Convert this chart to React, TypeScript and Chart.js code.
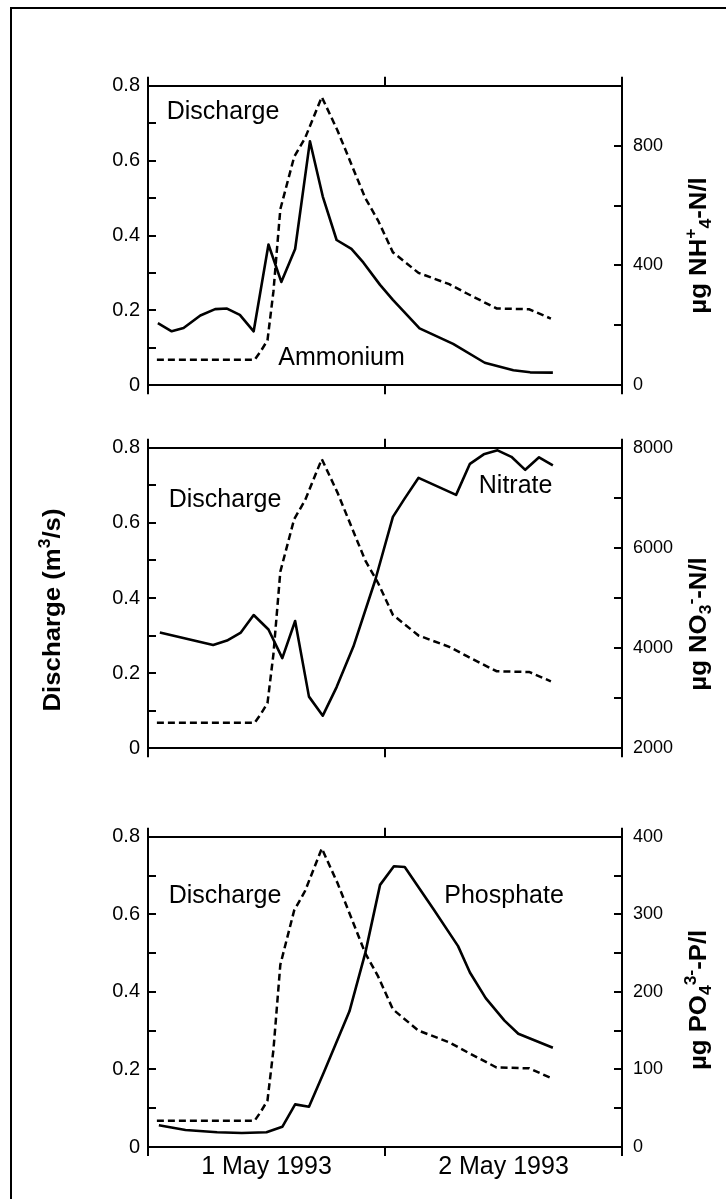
import React, { useEffect, useRef } from 'react';
import { Chart, registerables } from 'chart.js';

Chart.register(...registerables);

// ---------------- data (x = hours after 00:00, 1 May 1993) ----------------
const dischargeHours = [0.9, 10.8, 11.4, 12.1, 12.7, 13.4, 14.8, 15.9, 17.6, 19.2, 22.0, 23.3, 24.8, 27.4, 30.5, 32.3, 35.3, 38.6, 40.8];
const dischargeValues = [0.068, 0.068, 0.09, 0.12, 0.25, 0.47, 0.61, 0.66, 0.77, 0.68, 0.5, 0.44, 0.355, 0.3, 0.27, 0.245, 0.205, 0.203, 0.178];

const ammoniumHours = [1.0, 2.4, 3.6, 5.3, 6.8, 8.0, 9.3, 10.7, 12.2, 13.5, 14.9, 16.4, 17.7, 19.1, 20.6, 21.8, 23.5, 24.8, 27.5, 30.9, 34.1, 37.0, 38.7, 41.0];
const ammoniumValues = [207, 180, 191, 233, 254, 256, 235, 180, 470, 345, 455, 815, 630, 485, 455, 410, 335, 285, 190, 138, 75, 50, 43, 42];

const nitrateHours = [1.2, 6.6, 8.0, 9.4, 10.7, 12.2, 13.6, 14.9, 16.3, 17.7, 19.1, 20.8, 23.0, 24.8, 26.0, 27.4, 31.2, 32.6, 34.0, 35.4, 36.8, 38.2, 39.6, 41.0];
const nitrateValues = [4310, 4060, 4150, 4310, 4660, 4370, 3800, 4540, 3030, 2650, 3220, 4030, 5350, 6620, 6990, 7400, 7060, 7680, 7870, 7950, 7820, 7560, 7810, 7650];

const phosphateHours = [1.1, 3.8, 7.0, 9.5, 12.0, 13.6, 14.9, 16.3, 17.8, 20.4, 22.0, 23.5, 24.9, 26.0, 28.9, 31.4, 32.6, 34.2, 36.1, 37.5, 41.0];
const phosphateValues = [28, 22, 19, 18, 19, 26, 55, 52, 96, 175, 250, 338, 362, 361, 307, 259, 225, 192, 163, 146, 128];

// tick labels
const xLabelHours = [12, 36];
const xLabelTexts = ['1 May 1993', '2 May 1993'];
const dischargeTickLabels = [0, 0.2, 0.4, 0.6, 0.8];
const ammoniumTickLabels = [0, 400, 800];
const nitrateTickLabels = [2000, 4000, 6000, 8000];
const phosphateTickLabels = [0, 100, 200, 300, 400];

const FONT = "'Liberation Sans', Arial, Helvetica, sans-serif";

type Seg = { t: string; k?: 'sup' | 'sub' };

function drawRich(ctx: CanvasRenderingContext2D, segs: Seg[], bx: number, cy: number, size: number, stretch: number) {
  ctx.save();
  ctx.translate(bx, cy);
  ctx.rotate(-Math.PI / 2);
  ctx.scale(stretch, 1);
  let total = 0;
  const parts = segs.map((sg) => {
    const fs = sg.k ? size * 0.68 : size;
    ctx.font = `bold ${fs}px ${FONT}`;
    const w = ctx.measureText(sg.t).width;
    total += w;
    return { sg, fs, w };
  });
  let x = -total / 2;
  ctx.textBaseline = 'alphabetic';
  ctx.textAlign = 'left';
  ctx.fillStyle = '#000';
  for (const p of parts) {
    ctx.font = `bold ${p.fs}px ${FONT}`;
    const dy = p.sg.k === 'sup' ? -size * 0.42 : p.sg.k === 'sub' ? size * 0.22 : 0;
    ctx.fillText(p.sg.t, x, dy);
    x += p.w;
  }
  ctx.restore();
}

const textPlugin = {
  id: 'panelText',
  afterDraw(chart: any, _args: any, opts: any) {
    const ctx = chart.ctx as CanvasRenderingContext2D;
    const xs = chart.scales.x;
    const ys = chart.scales.y;
    const area = chart.chartArea;
    for (const n of opts.notes || []) {
      ctx.save();
      ctx.font = `25px ${FONT}`;
      ctx.fillStyle = '#000';
      ctx.textAlign = 'left';
      ctx.textBaseline = 'alphabetic';
      ctx.fillText(n.text, xs.getPixelForValue(n.x), ys.getPixelForValue(n.y));
      ctx.restore();
    }
    const midY = (area.top + area.bottom) / 2;
    for (const t of opts.titles || []) {
      const bx = t.side === 'left' ? area.left - t.dx : area.right + t.dx;
      drawRich(ctx, t.segs, bx, midY + t.dy, 23, 1.12);
    }
  },
};

type PanelSpec = {
  top: number;
  height: number;
  bottomAxis: number;
  concHours: number[];
  concValues: number[];
  rightMin: number;
  rightMax: number;
  rightStep: number;
  rightLabels: number[];
  showX: boolean;
  notes: { text: string; x: number; y: number }[];
  titles: { side: 'left' | 'right'; dx: number; dy: number; segs: Seg[] }[];
};

const panels: PanelSpec[] = [
  {
    top: 56,
    height: 359,
    bottomAxis: 20,
    concHours: ammoniumHours,
    concValues: ammoniumValues,
    rightMin: 0,
    rightMax: 1000,
    rightStep: 200,
    rightLabels: ammoniumTickLabels,
    showX: false,
    notes: [
      { text: 'Discharge', x: 1.9, y: 0.712 },
      { text: 'Ammonium', x: 13.2, y: 0.055 },
    ],
    titles: [
      { side: 'right', dx: 84, dy: 10, segs: [{ t: 'µg NH' }, { t: '+', k: 'sup' }, { t: '4', k: 'sub' }, { t: '-N/l' }] },
    ],
  },
  {
    top: 418,
    height: 360,
    bottomAxis: 20,
    concHours: nitrateHours,
    concValues: nitrateValues,
    rightMin: 2000,
    rightMax: 8000,
    rightStep: 1000,
    rightLabels: nitrateTickLabels,
    showX: false,
    notes: [
      { text: 'Discharge', x: 2.1, y: 0.6425 },
      { text: 'Nitrate', x: 33.5, y: 0.68 },
    ],
    titles: [
      { side: 'right', dx: 84, dy: 26, segs: [{ t: 'µg NO' }, { t: '3', k: 'sub' }, { t: '-', k: 'sup' }, { t: '-N/l' }] },
      { side: 'left', dx: 88, dy: 12, segs: [{ t: 'Discharge (m' }, { t: '3', k: 'sup' }, { t: '/s)' }] },
    ],
  },
  {
    top: 807,
    height: 390,
    bottomAxis: 50,
    concHours: phosphateHours,
    concValues: phosphateValues,
    rightMin: 0,
    rightMax: 400,
    rightStep: 50,
    rightLabels: phosphateTickLabels,
    showX: true,
    notes: [
      { text: 'Discharge', x: 2.1, y: 0.63 },
      { text: 'Phosphate', x: 30.0, y: 0.63 },
    ],
    titles: [
      { side: 'right', dx: 84, dy: 8, segs: [{ t: 'µg PO' }, { t: '4', k: 'sub' }, { t: '3-', k: 'sup' }, { t: '-P/l' }] },
    ],
  },
];

function xAxis(position: 'top' | 'bottom', spec: PanelSpec) {
  return {
    type: 'linear',
    position,
    min: 0,
    max: 48,
    ticks: {
      stepSize: 12,
      autoSkip: false,
      maxRotation: 0,
      minRotation: 0,
      padding: -4,
      color: '#000',
      font: { family: FONT, size: 25 },
      callback: (v: any) => {
        if (position !== 'bottom' || !spec.showX) return '';
        const i = xLabelHours.indexOf(Number(v));
        return i >= 0 ? xLabelTexts[i] : '';
      },
    },
    grid: {
      drawOnChartArea: false,
      drawTicks: true,
      tickLength: 9,
      lineWidth: 2,
      color: '#000',
      tickColor: (c: any) => (c.tick && Number(c.tick.value) % 24 === 0 ? '#000' : 'rgba(0,0,0,0)'),
    },
    border: { display: true, color: '#000', width: 2 },
    afterFit: (s: any) => {
      s.height = position === 'top' ? 20 : spec.bottomAxis;
    },
  };
}

function buildConfig(spec: PanelSpec): any {
  return {
    type: 'line',
    data: {
      datasets: [
        {
          label: 'Discharge',
          data: dischargeHours.map((h, i) => ({ x: h, y: dischargeValues[i] })),
          xAxisID: 'x',
          yAxisID: 'y',
          borderColor: '#000',
          borderWidth: 2.5,
          borderDash: [7, 4],
          pointRadius: 0,
          fill: false,
          tension: 0,
        },
        {
          label: 'Concentration',
          data: spec.concHours.map((h, i) => ({ x: h, y: spec.concValues[i] })),
          xAxisID: 'x',
          yAxisID: 'y1',
          borderColor: '#000',
          borderWidth: 2.6,
          borderJoinStyle: 'round',
          pointRadius: 0,
          fill: false,
          tension: 0,
        },
      ],
    },
    options: {
      responsive: false,
      animation: false,
      devicePixelRatio: 1,
      layout: { padding: 0 },
      events: [],
      plugins: {
        legend: { display: false },
        tooltip: { enabled: false },
        panelText: { notes: spec.notes, titles: spec.titles },
      },
      scales: {
        x: xAxis('bottom', spec),
        x2: xAxis('top', spec),
        y: {
          type: 'linear',
          position: 'left',
          min: 0,
          max: 0.8,
          ticks: {
            stepSize: 0.1,
            autoSkip: false,
            padding: 16,
            color: '#000',
            font: { family: FONT, size: 20 },
            callback: (v: any) => {
              const n = Math.round(Number(v) * 10) / 10;
              const hit = dischargeTickLabels.some((t) => Math.abs(t - n) < 1e-6);
              if (!hit) return '';
              return n === 0 ? '0' : n.toFixed(1);
            },
          },
          grid: { drawOnChartArea: false, drawTicks: true, tickLength: -8, lineWidth: 2, color: '#000', tickColor: '#000' },
          border: { display: true, color: '#000', width: 2 },
          afterFit: (s: any) => {
            s.width = 148;
          },
        },
        y1: {
          type: 'linear',
          position: 'right',
          min: spec.rightMin,
          max: spec.rightMax,
          ticks: {
            stepSize: spec.rightStep,
            autoSkip: false,
            padding: 19,
            color: '#000',
            font: { family: FONT, size: 18 },
            callback: (v: any) => (spec.rightLabels.includes(Math.round(Number(v))) ? String(Math.round(Number(v))) : ''),
          },
          grid: { drawOnChartArea: false, drawTicks: true, tickLength: -8, lineWidth: 2, color: '#000', tickColor: '#000' },
          border: { display: true, color: '#000', width: 2 },
          afterFit: (s: any) => {
            s.width = 104;
          },
        },
      },
    },
    plugins: [textPlugin],
  };
}

function Panel({ spec }: { spec: PanelSpec }) {
  const ref = useRef<HTMLCanvasElement>(null);
  useEffect(() => {
    const chart = new Chart(ref.current as HTMLCanvasElement, buildConfig(spec));
    return () => chart.destroy();
  }, [spec]);
  return (
    <canvas
      ref={ref}
      width={726}
      height={spec.height}
      style={{ position: 'absolute', left: 0, top: spec.top, width: 726, height: spec.height }}
    />
  );
}

export default function App() {
  return (
    <div style={{ position: 'absolute', left: 0, top: 0, width: 726, height: 1199, background: '#fff', overflow: 'hidden' }}>
      <div
        style={{
          position: 'absolute',
          left: 10,
          top: 7,
          width: 720,
          height: 1200,
          borderLeft: '2px solid #000',
          borderTop: '2px solid #000',
        }}
      />
      {panels.map((p, i) => (
        <Panel key={i} spec={p} />
      ))}
    </div>
  );
}
